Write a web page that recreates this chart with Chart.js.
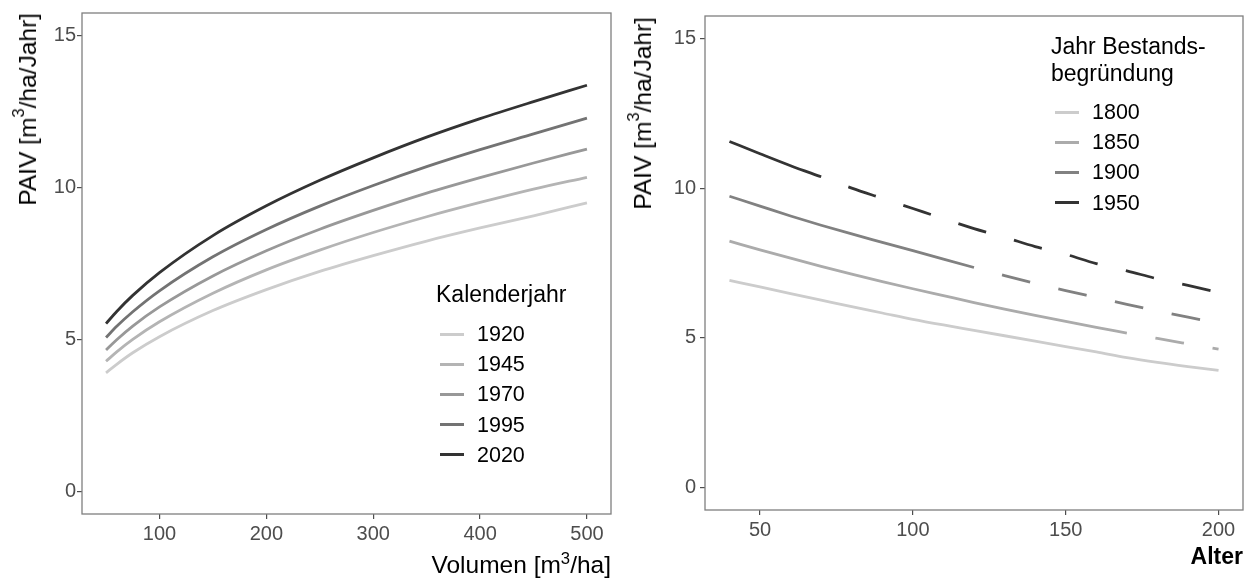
<!DOCTYPE html>
<html>
<head>
<meta charset="utf-8">
<script src="https://cdn.jsdelivr.net/npm/chart.js@4.4.1/dist/chart.umd.min.js"></script>
<style>
  body { margin:0; background:#fff; width:1245px; height:579px; position:relative; overflow:hidden;
         font-family:"Liberation Sans", Arial, sans-serif; }
  canvas { position:absolute; top:0; }
  .txt { position:absolute; white-space:nowrap; color:#000; line-height:24px; }
  .ytitle { writing-mode:vertical-rl; transform:rotate(180deg); font-size:24.5px; line-height:26px; }
  .key { position:absolute; height:3px; }
  sup { font-size:0.68em; line-height:0; vertical-align:0.55em; }
</style>
</head>
<body>
<canvas id="volChart" width="622" height="579" style="left:0"></canvas>
<canvas id="altChart" width="623" height="579" style="left:622px"></canvas>

<div class="txt ytitle" style="left:15px;top:13px">PAIV [m<sup>3</sup>/ha/Jahr]</div>
<div class="txt" style="left:0;width:611px;text-align:right;top:553px;font-size:24.5px">Volumen [m<sup>3</sup>/ha]</div>
<div class="txt ytitle" style="left:630px;top:17px">PAIV [m<sup>3</sup>/ha/Jahr]</div>
<div class="txt" style="left:0;width:1243px;text-align:right;top:544px;font-size:23px;font-weight:bold">Alter</div>

<div id="legVol"></div>
<div id="legAlt"></div>

<script>
// --- linkes Panel: PAIV ueber Volumen ---
const volumen = [50, 60, 75, 100, 150, 200, 250, 300, 350, 400, 450, 500];
const kalenderjahre = ['1920', '1945', '1970', '1995', '2020'];
const paivVol1920 = [3.90, 4.18, 4.56, 5.09, 5.95, 6.64, 7.24, 7.76, 8.24, 8.67, 9.07, 9.50];
const paivVol1945 = [4.28, 4.59, 5.00, 5.58, 6.52, 7.29, 7.94, 8.52, 9.04, 9.51, 9.95, 10.34];
const paivVol1970 = [4.65, 4.99, 5.44, 6.07, 7.09, 7.92, 8.63, 9.25, 9.82, 10.33, 10.81, 11.27];
const paivVol1995 = [5.06, 5.43, 5.91, 6.60, 7.72, 8.62, 9.39, 10.07, 10.69, 11.25, 11.77, 12.29];
const paivVol2020 = [5.52, 5.92, 6.45, 7.20, 8.42, 9.40, 10.24, 10.98, 11.66, 12.27, 12.83, 13.37];
const volTicks = [100, 200, 300, 400, 500];

// --- rechtes Panel: PAIV ueber Alter ---
const alter = [40, 50, 60, 70, 80, 90, 100, 110, 120, 130, 140, 150, 160, 170, 180, 190, 200];
const gruendung = ['1800', '1850', '1900', '1950'];
const paivAlt1800 = [6.92, 6.70, 6.48, 6.26, 6.04, 5.83, 5.62, 5.43, 5.25, 5.07, 4.89, 4.71, 4.53, 4.34, 4.18, 4.04, 3.91];
const paivAlt1850 = [8.23, 7.94, 7.66, 7.39, 7.13, 6.88, 6.64, 6.41, 6.18, 5.96, 5.75, 5.55, 5.35, 5.16, 4.98, 4.80, 4.62];
const paivAlt1900 = [9.73, 9.40, 9.07, 8.76, 8.47, 8.19, 7.91, 7.63, 7.35, 7.08, 6.82, 6.58, 6.35, 6.12, 5.90, 5.69, 5.49];
const paivAlt1950 = [11.56, 11.15, 10.75, 10.38, 10.00, 9.66, 9.32, 8.98, 8.65, 8.36, 8.05, 7.79, 7.48, 7.24, 6.97, 6.75, 6.52];
const altTicks = [50, 100, 150, 200];
const heute = 2020; // bis heute durchgezogen, danach gestrichelt

const yTicks = [0, 5, 10, 15];

const greysVol = ['#cccccc', '#b4b4b4', '#989898', '#737373', '#333333'];
const greysAlt = ['#cccccc', '#ababab', '#818181', '#333333'];

const tickFont = { family: '"Liberation Sans", Arial, sans-serif', size: 20 };

// Rahmen um die Zeichenflaeche
const panelBorder = {
    id: 'panelBorder',
    afterDraw(chart) {
        const { ctx, chartArea: a } = chart;
        ctx.save();
        ctx.strokeStyle = '#7f7f7f';
        ctx.lineWidth = 1.3;
        ctx.strokeRect(a.left, a.top, a.right - a.left, a.bottom - a.top);
        ctx.restore();
    }
};

function makeScale(min, max, ticks, size, horizontal, pad){
    return {
        type: 'linear', min, max,
        afterBuildTicks: s => { s.ticks = ticks.map(v => ({ value: v })); },
        afterFit: s => { if(horizontal) s.height = size; else s.width = size; },
        grid: { drawOnChartArea: false, drawTicks: true, tickLength: 5, color: '#4d4d4d', lineWidth: 1.2 },
        border: { display: false },
        ticks: { font: tickFont, color: '#4d4d4d', padding: pad, maxRotation: 0, autoSkip: false }
    };
}

function baseOptions(xScale, yScale, padding){
    return {
        responsive: false,
        animation: false,
        layout: { padding },
        plugins: { legend: { display: false }, tooltip: { enabled: false } },
        scales: { x: xScale, y: yScale }
    };
}

// linkes Diagramm
const paivVol = [paivVol1920, paivVol1945, paivVol1970, paivVol1995, paivVol2020];
new Chart(document.getElementById('volChart'), {
    type: 'line',
    data: {
        datasets: kalenderjahre.map((j, i) => ({
            label: j,
            data: volumen.map((x, k) => ({ x, y: paivVol[i][k] })),
            borderColor: greysVol[i],
            borderWidth: 2.8,
            pointRadius: 0,
            cubicInterpolationMode: 'monotone',
            fill: false
        }))
    },
    options: baseOptions(makeScale(27.5, 522.5, volTicks, 65, true, 3),
                         makeScale(-0.75, 15.75, yTicks, 82, false, 1),
                         { top: 13, right: 11, left: 0, bottom: 0 }),
    plugins: [panelBorder]
});

// rechtes Diagramm: durchgezogen bis 2020, danach gestrichelt
const paivAlt = [paivAlt1800, paivAlt1850, paivAlt1900, paivAlt1950];
const altDatasets = [];
gruendung.forEach((g, i) => {
    const grenze = heute - Number(g);
    const pts = alter.map((x, k) => ({ x, y: paivAlt[i][k] }));
    altDatasets.push({
        label: g,
        data: pts.filter(p => p.x <= grenze),
        borderColor: greysAlt[i], borderWidth: 2.8, pointRadius: 0,
        cubicInterpolationMode: 'monotone', fill: false
    });
    const zukunft = pts.filter(p => p.x >= grenze);
    if(zukunft.length > 1){
        altDatasets.push({
            label: g + ' Prognose',
            data: zukunft,
            borderColor: greysAlt[i], borderWidth: 2.8, pointRadius: 0,
            borderDash: [29, 29], borderDashOffset: 29,
            cubicInterpolationMode: 'monotone', fill: false
        });
    }
});
new Chart(document.getElementById('altChart'), {
    type: 'line',
    data: { datasets: altDatasets },
    options: baseOptions(makeScale(32, 208, altTicks, 69, true, 3),
                         makeScale(-0.75, 15.75, yTicks, 83, false, 4),
                         { top: 16, right: 2, left: 0, bottom: 0 }),
    plugins: [panelBorder]
});

// Legenden im Panel
function legend(el, title, labels, colors, x, titleTop, rowTop){
    let html = `<div class="txt" style="left:${x - 4}px;top:${titleTop}px;font-size:23px;line-height:26.7px">${title}</div>`;
    labels.forEach((l, i) => {
        const cy = rowTop + i * 30.2;
        html += `<div class="key" style="left:${x}px;top:${cy - 1.5}px;width:24px;background:${colors[i]}"></div>`;
        html += `<div class="txt" style="left:${x + 37}px;top:${cy - 12}px;font-size:21.5px">${l}</div>`;
    });
    el.innerHTML = html;
}
legend(document.getElementById('legVol'), 'Kalenderjahr', kalenderjahre, greysVol, 440, 281, 334);
legend(document.getElementById('legAlt'), 'Jahr Bestands-<br>begründung', gruendung, greysAlt, 1055, 33, 112);
</script>
</body>
</html>
